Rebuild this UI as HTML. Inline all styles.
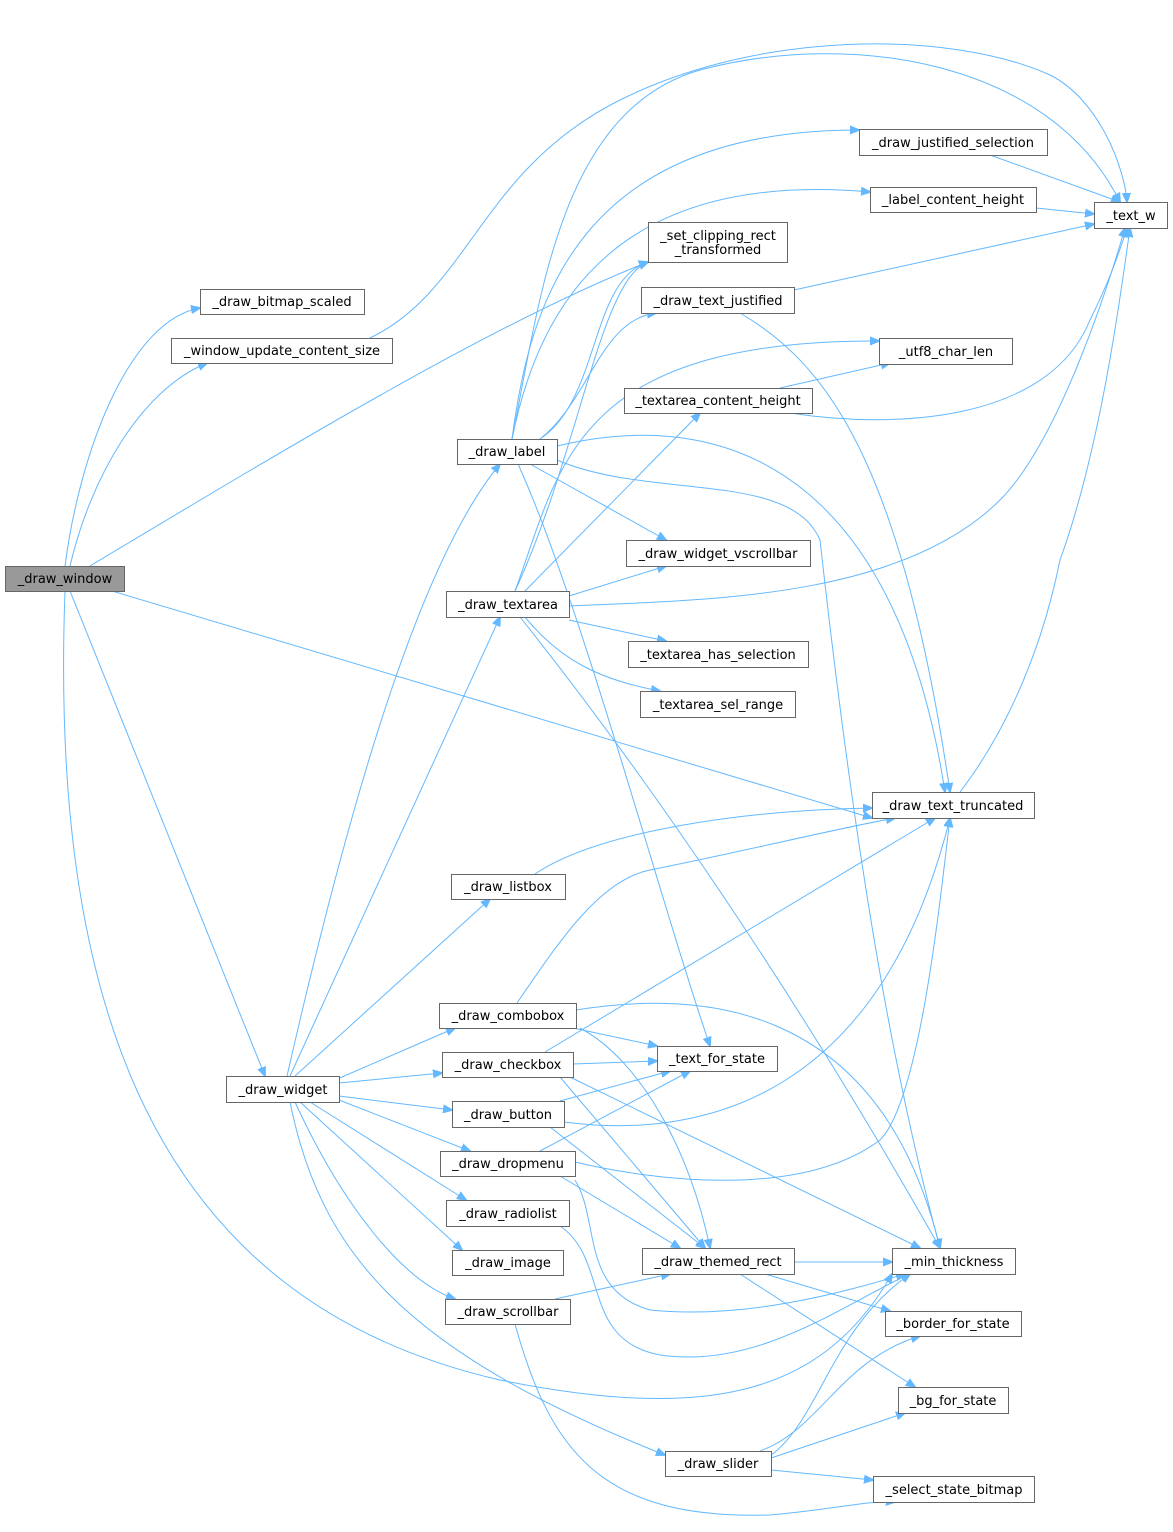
<!DOCTYPE html>
<html><head><meta charset="utf-8"><style>
html,body{margin:0;padding:0;background:#fff;}
svg text{font-family:"DejaVu Sans","Liberation Sans",sans-serif;font-size:13px;fill:#000;}
</style></head><body>
<svg width="1173" height="1527" xmlns="http://www.w3.org/2000/svg">
<defs><marker id="a" viewBox="0 0 10 10" refX="9" refY="5" markerWidth="10" markerHeight="10" markerUnits="userSpaceOnUse" orient="auto"><path d="M0,1 L10,5 L0,9 z" fill="#63b8ff" stroke="#63b8ff"/></marker></defs>
<g fill="none" stroke="#63b8ff" stroke-width="1" marker-end="url(#a)">
<path d="M65,566 C80,450 130,320 200,308"/>
<path d="M70,566 C90,480 140,390 207,363"/>
<path d="M90,566 C300,440 500,320 648,262"/>
<path d="M70,591 L265,1076"/>
<path d="M112,591 L872,818"/>
<path d="M65,591 C50,1000 150,1300 500,1380 C700,1420 820,1400 892,1274"/>
<path d="M370,338 C470,290 480,170 620,100 C760,30 950,30 1050,75 C1100,100 1125,170 1127,202"/>
<path d="M512,439 C540,300 560,110 700,70 C850,30 1050,60 1120,202"/>
<path d="M512,439 C530,300 580,130 859,130"/>
<path d="M512,439 C540,300 620,170 870,192"/>
<path d="M540,439 C600,400 590,280 648,262"/>
<path d="M540,439 C590,400 600,320 656,313"/>
<path d="M530,464 L666,540"/>
<path d="M557,446 C750,400 900,500 945,792"/>
<path d="M557,460 C650,500 790,470 820,540 C860,900 900,1100 940,1248"/>
<path d="M518,464 C580,600 660,900 710,1046"/>
<path d="M515,591 C580,450 600,280 648,262"/>
<path d="M515,591 C560,470 570,340 879,341"/>
<path d="M525,591 L700,413"/>
<path d="M569,596 L666,566"/>
<path d="M569,606 C700,600 900,600 1000,500 C1060,440 1110,280 1125,228"/>
<path d="M569,620 L666,641"/>
<path d="M525,617 C560,660 600,680 660,691"/>
<path d="M520,617 C650,780 800,1000 940,1248"/>
<path d="M990,155 L1120,202"/>
<path d="M1036,208 L1094,214"/>
<path d="M794,290 L1094,224"/>
<path d="M740,313 C820,360 900,450 950,792"/>
<path d="M780,388 L890,363"/>
<path d="M790,413 C900,430 1050,420 1090,320 C1110,280 1120,250 1127,228"/>
<path d="M960,792 C1000,740 1040,660 1060,560 C1100,450 1120,300 1130,228"/>
<path d="M535,874 C600,830 750,810 872,808"/>
<path d="M287,1076 C350,800 420,560 500,464"/>
<path d="M290,1076 L500,617"/>
<path d="M295,1076 L490,899"/>
<path d="M335,1080 L455,1028"/>
<path d="M339,1083 L442,1073"/>
<path d="M339,1096 L452,1110"/>
<path d="M339,1100 L470,1151"/>
<path d="M310,1102 L466,1200"/>
<path d="M300,1102 L462,1250"/>
<path d="M295,1102 C340,1200 400,1280 455,1299"/>
<path d="M290,1102 C320,1250 400,1350 665,1455"/>
<path d="M517,1003 C560,940 600,880 650,870 C750,850 830,830 895,818"/>
<path d="M573,1028 L657,1046"/>
<path d="M580,1028 C640,1060 690,1150 710,1248"/>
<path d="M576,1010 C700,990 880,1000 940,1248"/>
<path d="M545,1052 L935,818"/>
<path d="M573,1064 L657,1061"/>
<path d="M560,1077 L705,1248"/>
<path d="M570,1077 L920,1248"/>
<path d="M560,1101 L670,1071"/>
<path d="M564,1122 C700,1140 880,1100 950,818"/>
<path d="M550,1127 L705,1248"/>
<path d="M540,1151 L690,1071"/>
<path d="M575,1162 C650,1180 800,1200 880,1140 C920,1100 940,900 950,818"/>
<path d="M560,1176 L680,1248"/>
<path d="M575,1180 C600,1220 580,1290 650,1310 C750,1320 850,1290 905,1274"/>
<path d="M560,1226 C610,1260 580,1340 660,1355 C760,1370 850,1300 910,1274"/>
<path d="M555,1299 L670,1274"/>
<path d="M515,1324 C550,1450 600,1520 770,1515 C830,1510 870,1500 895,1502"/>
<path d="M794,1262 L892,1262"/>
<path d="M765,1274 L890,1311"/>
<path d="M740,1274 L915,1387"/>
<path d="M770,1456 C820,1420 830,1330 910,1274"/>
<path d="M760,1451 C820,1430 840,1360 920,1336"/>
<path d="M771,1458 L905,1413"/>
<path d="M771,1470 L873,1480"/>
</g>
<g stroke="#666" stroke-width="1" fill="#fff">
<rect x="5.5" y="566.5" width="119" height="25" fill="#999"/>
<rect x="200.5" y="289.5" width="164" height="25"/>
<rect x="171.5" y="338.5" width="221" height="25"/>
<rect x="457.5" y="439.5" width="100" height="25"/>
<rect x="446.5" y="591.5" width="123" height="26"/>
<rect x="451.5" y="874.5" width="114" height="25"/>
<rect x="439.5" y="1003.5" width="137" height="25"/>
<rect x="442.5" y="1052.5" width="131" height="25"/>
<rect x="226.5" y="1076.5" width="113" height="26"/>
<rect x="452.5" y="1101.5" width="112" height="26"/>
<rect x="440.5" y="1151.5" width="135" height="25"/>
<rect x="446.5" y="1200.5" width="123" height="26"/>
<rect x="452.5" y="1250.5" width="111" height="25"/>
<rect x="445.5" y="1299.5" width="125" height="25"/>
<rect x="665.5" y="1451.5" width="106" height="25"/>
<rect x="648.5" y="222.5" width="139" height="40"/>
<rect x="641.5" y="287.5" width="153" height="26"/>
<rect x="624.5" y="388.5" width="188" height="25"/>
<rect x="626.5" y="540.5" width="184" height="26"/>
<rect x="628.5" y="641.5" width="180" height="26"/>
<rect x="640.5" y="691.5" width="155" height="26"/>
<rect x="657.5" y="1046.5" width="120" height="25"/>
<rect x="642.5" y="1248.5" width="152" height="26"/>
<rect x="859.5" y="129.5" width="188" height="26"/>
<rect x="870.5" y="187.5" width="166" height="25"/>
<rect x="879.5" y="338.5" width="133" height="26"/>
<rect x="872.5" y="792.5" width="162" height="26"/>
<rect x="1094.5" y="202.5" width="73" height="26"/>
<rect x="892.5" y="1248.5" width="123" height="26"/>
<rect x="885.5" y="1311.5" width="136" height="25"/>
<rect x="898.5" y="1387.5" width="110" height="26"/>
<rect x="873.5" y="1476.5" width="161" height="26"/>
</g>
<g text-anchor="middle">
<text x="65" y="583">_draw_window</text>
<text x="282" y="306">_draw_bitmap_scaled</text>
<text x="282" y="355">_window_update_content_size</text>
<text x="507" y="456">_draw_label</text>
<text x="508" y="609">_draw_textarea</text>
<text x="508" y="891">_draw_listbox</text>
<text x="508" y="1020">_draw_combobox</text>
<text x="508" y="1069">_draw_checkbox</text>
<text x="283" y="1094">_draw_widget</text>
<text x="508" y="1119">_draw_button</text>
<text x="508" y="1168">_draw_dropmenu</text>
<text x="508" y="1218">_draw_radiolist</text>
<text x="508" y="1267">_draw_image</text>
<text x="508" y="1316">_draw_scrollbar</text>
<text x="718" y="1468">_draw_slider</text>
<text x="718" y="240">_set_clipping_rect</text>
<text x="718" y="254">_transformed</text>
<text x="718" y="305">_draw_text_justified</text>
<text x="718" y="405">_textarea_content_height</text>
<text x="718" y="558">_draw_widget_vscrollbar</text>
<text x="718" y="659">_textarea_has_selection</text>
<text x="718" y="709">_textarea_sel_range</text>
<text x="717" y="1063">_text_for_state</text>
<text x="718" y="1266">_draw_themed_rect</text>
<text x="953" y="147">_draw_justified_selection</text>
<text x="953" y="204">_label_content_height</text>
<text x="946" y="356">_utf8_char_len</text>
<text x="953" y="810">_draw_text_truncated</text>
<text x="1131" y="220">_text_w</text>
<text x="954" y="1266">_min_thickness</text>
<text x="953" y="1328">_border_for_state</text>
<text x="953" y="1405">_bg_for_state</text>
<text x="954" y="1494">_select_state_bitmap</text>
</g>
</svg>
</body></html>
